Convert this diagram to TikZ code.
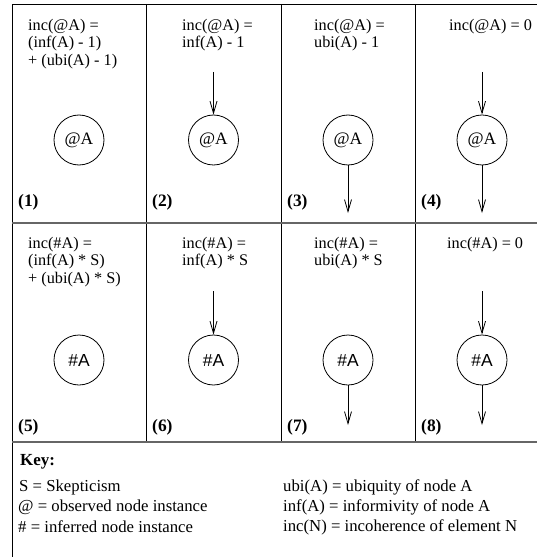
\documentclass[tikz,border=0pt]{standalone}
\usepackage{fontspec}
\setmainfont{Liberation Serif}
\newfontfamily\hsans{Liberation Sans}
\usetikzlibrary{arrows.meta}
\begin{document}
\begin{tikzpicture}[x=1bp,y=-1bp,
  rule/.style={line width=0.9bp, black},
  sep/.style={line width=1.1bp, black!60},
  inst/.style={circle, draw, line width=0.8bp, minimum size=50bp, inner sep=0pt,
    font=\fontsize{17.5}{19}\selectfont},
  flow/.style={line width=0.8bp, -{Straight Barb[length=12bp,width=7bp]}},
  formula/.style={anchor=north west, align=left, inner sep=0pt,
    font=\fontsize{16.3}{17.5}\selectfont},
  tag/.style={anchor=west, inner sep=0pt, font=\fontsize{17.5}{19}\selectfont\bfseries},
  keytext/.style={anchor=west, inner sep=0pt, font=\fontsize{16.8}{19}\selectfont}]
\useasboundingbox (0,0) rectangle (537,557);

% frame and grid
\draw[rule] (12,557) -- (12,4) -- (537,4);
\foreach \gx in {146,281,415} \draw[rule] (\gx,4) -- (\gx,442);
\draw[sep] (12,223) -- (537,223);
\draw[sep] (12,442) -- (537,442);

% formulas, top row
\node[formula] (f1) at (28,19) {inc(@A) =\\(inf(A) - 1)\\+ (ubi(A) - 1)};
\node[formula] (f2) at (182,19) {inc(@A) =\\inf(A) - 1};
\node[formula] (f3) at (314,19) {inc(@A) =\\ubi(A) - 1};
\node[formula] (f4) at (449,19) {inc(@A) = 0};
% formulas, bottom row
\node[formula] (f5) at (28,237) {inc(\#A) =\\(inf(A) * S)\\+ (ubi(A) * S)};
\node[formula] (f6) at (182,237) {inc(\#A) =\\inf(A) * S};
\node[formula] (f7) at (314,237) {inc(\#A) =\\ubi(A) * S};
\node[formula] (f8) at (447,237) {inc(\#A) = 0};

% node instances
\node[inst] (n1) at (79,140) {@A};
\node[inst] (n2) at (213.5,140) {@A};
\node[inst] (n3) at (348,140) {@A};
\node[inst] (n4) at (482,140) {@A};
\node[inst] (n5) at (79,360) {\hsans\#A};
\node[inst] (n6) at (213.5,360) {\hsans\#A};
\node[inst] (n7) at (348,360) {\hsans\#A};
\node[inst] (n8) at (482,360) {\hsans\#A};

% arrow ends
\coordinate (i2) at (213.5,72);
\coordinate (i4) at (482,72);
\coordinate (o3) at (348,213);
\coordinate (o4) at (482,213);
\coordinate (i6) at (213.5,291);
\coordinate (i8) at (482,291);
\coordinate (o7) at (348,425);
\coordinate (o8) at (482,425);

\draw[flow] (i2) -- (n2);
\draw[flow] (n3) -- (o3);
\draw[flow] (i4) -- (n4);
\draw[flow] (n4) -- (o4);
\draw[flow] (i6) -- (n6);
\draw[flow] (n7) -- (o7);
\draw[flow] (i8) -- (n8);
\draw[flow] (n8) -- (o8);

% panel numbers
\node[tag] (t1) at (18,202) {(1)};
\node[tag] (t2) at (152,202) {(2)};
\node[tag] (t3) at (287,202) {(3)};
\node[tag] (t4) at (421,202) {(4)};
\node[tag] (t5) at (18,427) {(5)};
\node[tag] (t6) at (152,427) {(6)};
\node[tag] (t7) at (287,427) {(7)};
\node[tag] (t8) at (421,427) {(8)};

% key
\node[tag, font=\fontsize{17}{19}\selectfont\bfseries] (k0) at (20,462) {Key:};
\node[keytext] (k1) at (19,487) {S = Skepticism};
\node[keytext] (k2) at (18,507) {@ = observed node instance};
\node[keytext] (k3) at (18,527) {\# = inferred node instance};
\node[keytext] (k4) at (283,487) {ubi(A) = ubiquity of node A};
\node[keytext] (k5) at (283,507) {inf(A) = informivity of node A};
\node[keytext] (k6) at (283,527) {inc(N) = incoherence of element N};
\end{tikzpicture}
\end{document}
